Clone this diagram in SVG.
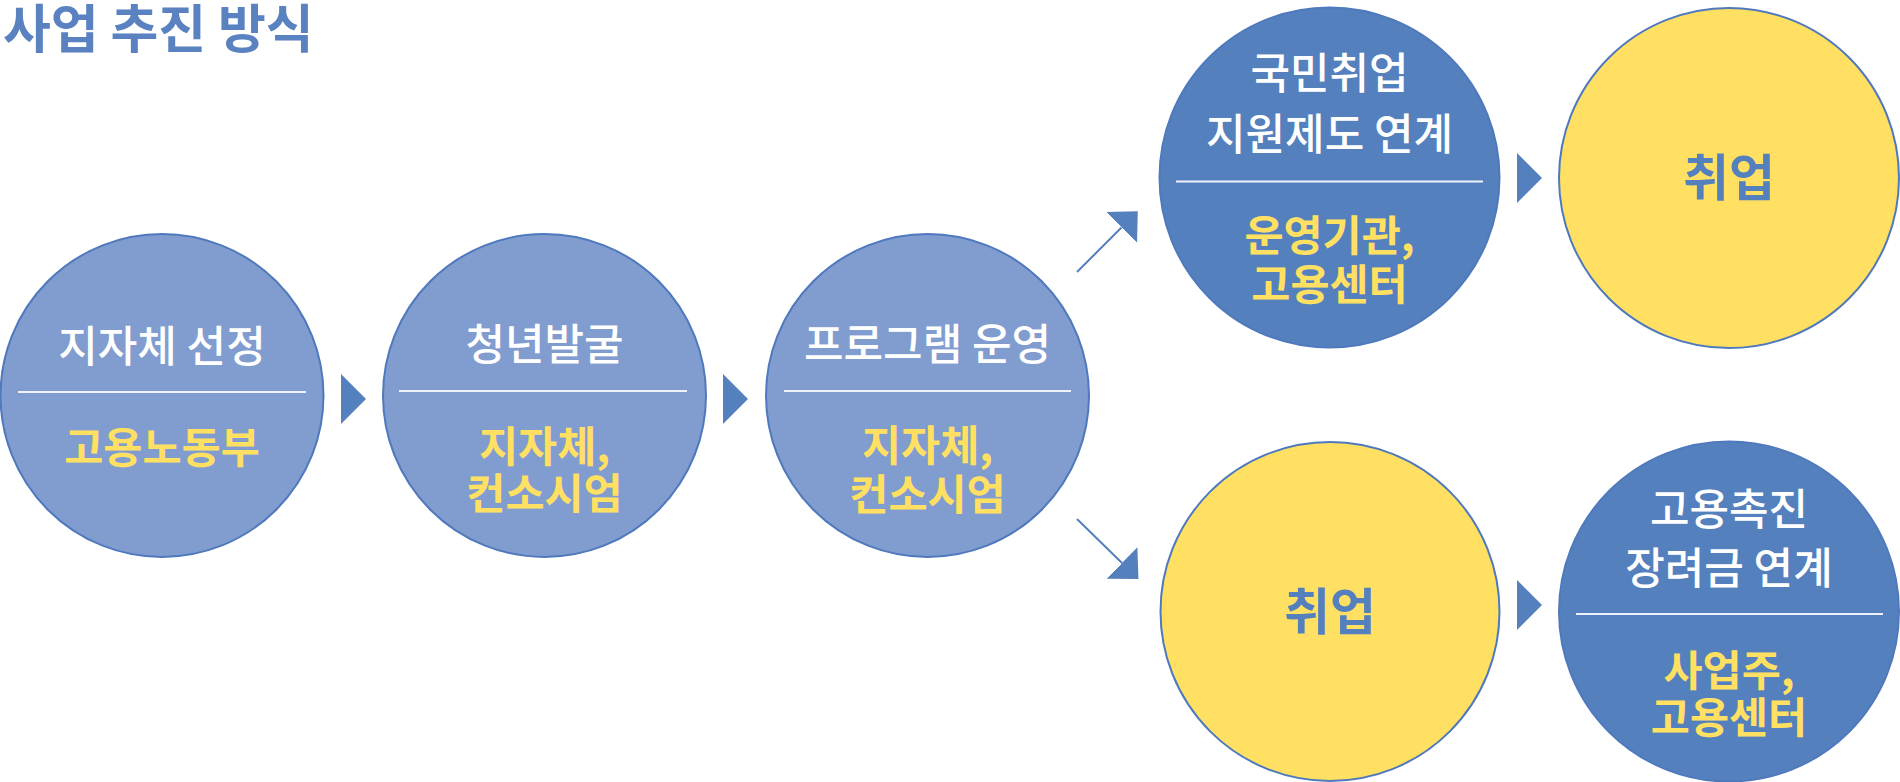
<svg xmlns="http://www.w3.org/2000/svg" xmlns:xlink="http://www.w3.org/1999/xlink" width="1900" height="782" viewBox="0 0 1900 782">
<style>
  .ko { font-family: "Noto Sans CJK KR", "Noto Sans", sans-serif; text-anchor: middle; }
  .head { fill: #FFFFFF; font-size: 43px; font-weight: 500; }
  .sub { fill: #FFE063; font-size: 42.5px; font-weight: 700; }
  .big { fill: #5580BE; font-size: 50px; font-weight: 700; }
  .light { fill: #819CCF; stroke: #4F79BD; stroke-width: 2; }
  .dark { fill: #5580BE; stroke: #4F79BD; stroke-width: 2; }
  .yel { fill: #FFE063; stroke: #4F79BD; stroke-width: 2; }
  .div { stroke: #EEF2FA; stroke-width: 2; }
  .conn { stroke: #5580BE; stroke-width: 2; fill: none; }
  .tri { fill: #5580BE; }
</style>
<defs>
  <path id="tri" d="M0,0 L25,25 L0,50 Z"/>
  <marker id="ah" markerUnits="userSpaceOnUse" viewBox="0 0 23 44" refX="0" refY="22" markerWidth="23" markerHeight="44" orient="auto">
    <path d="M0,0 L23,22 L0,44 Z" fill="#5580BE"/>
  </marker>
</defs>
<rect width="1900" height="782" fill="#FFFFFF"/>
<text x="3" y="48" style="font-family: 'Noto Sans CJK KR', sans-serif; font-size: 52px; font-weight: 700; fill: #5A82C0;">사업 추진 방식</text>

<g id="connectors">
  <use href="#tri" class="tri" x="341" y="374"/>
  <use href="#tri" class="tri" x="723" y="374"/>
  <use href="#tri" class="tri" x="1517" y="153"/>
  <use href="#tri" class="tri" x="1517" y="580"/>
  <line class="conn" x1="1077" y1="272" x2="1121.5" y2="227.5" marker-end="url(#ah)"/>
  <line class="conn" x1="1077" y1="519" x2="1122" y2="563" marker-end="url(#ah)"/>
</g>

<g id="node-select">
  <circle class="light" cx="162" cy="395.5" r="161.5"/>
  <text class="ko head" x="162" y="362">지자체 선정</text>
  <line class="div" x1="18" y1="392" x2="306" y2="392"/>
  <text class="ko sub" x="162" y="463">고용노동부</text>
</g>

<g id="node-discover">
  <circle class="light" cx="544.5" cy="395.5" r="161.5"/>
  <text class="ko head" x="544.5" y="360">청년발굴</text>
  <line class="div" x1="399" y1="391" x2="687" y2="391"/>
  <text class="ko sub" x="544.5" y="462">지자체,</text>
  <text class="ko sub" x="544.5" y="509">컨소시엄</text>
</g>

<g id="node-program">
  <circle class="light" cx="927.5" cy="395.5" r="161.5"/>
  <text class="ko head" x="927.5" y="360">프로그램 운영</text>
  <line class="div" x1="784" y1="391" x2="1071" y2="391"/>
  <text class="ko sub" x="927.5" y="461">지자체,</text>
  <text class="ko sub" x="927.5" y="510">컨소시엄</text>
</g>

<g id="node-national">
  <circle class="dark" cx="1329.5" cy="177.5" r="170"/>
  <text class="ko head" x="1329.5" y="89">국민취업</text>
  <text class="ko head" x="1329.5" y="150">지원제도 연계</text>
  <line class="div" x1="1176" y1="181.5" x2="1483" y2="181.5"/>
  <text class="ko sub" x="1329.5" y="251">운영기관,</text>
  <text class="ko sub" x="1329.5" y="300">고용센터</text>
</g>

<g id="node-job-top">
  <circle class="yel" cx="1729" cy="178" r="170"/>
  <text class="ko big" x="1729" y="196">취업</text>
</g>

<g id="node-job-bottom">
  <circle class="yel" cx="1330" cy="611.5" r="169.5"/>
  <text class="ko big" x="1330" y="630">취업</text>
</g>

<g id="node-incentive">
  <circle class="dark" cx="1729" cy="611.5" r="170"/>
  <text class="ko head" x="1729" y="525">고용촉진</text>
  <text class="ko head" x="1729" y="584">장려금 연계</text>
  <line class="div" x1="1576" y1="614" x2="1883" y2="614"/>
  <text class="ko sub" x="1729" y="686">사업주,</text>
  <text class="ko sub" x="1729" y="733">고용센터</text>
</g>
</svg>
